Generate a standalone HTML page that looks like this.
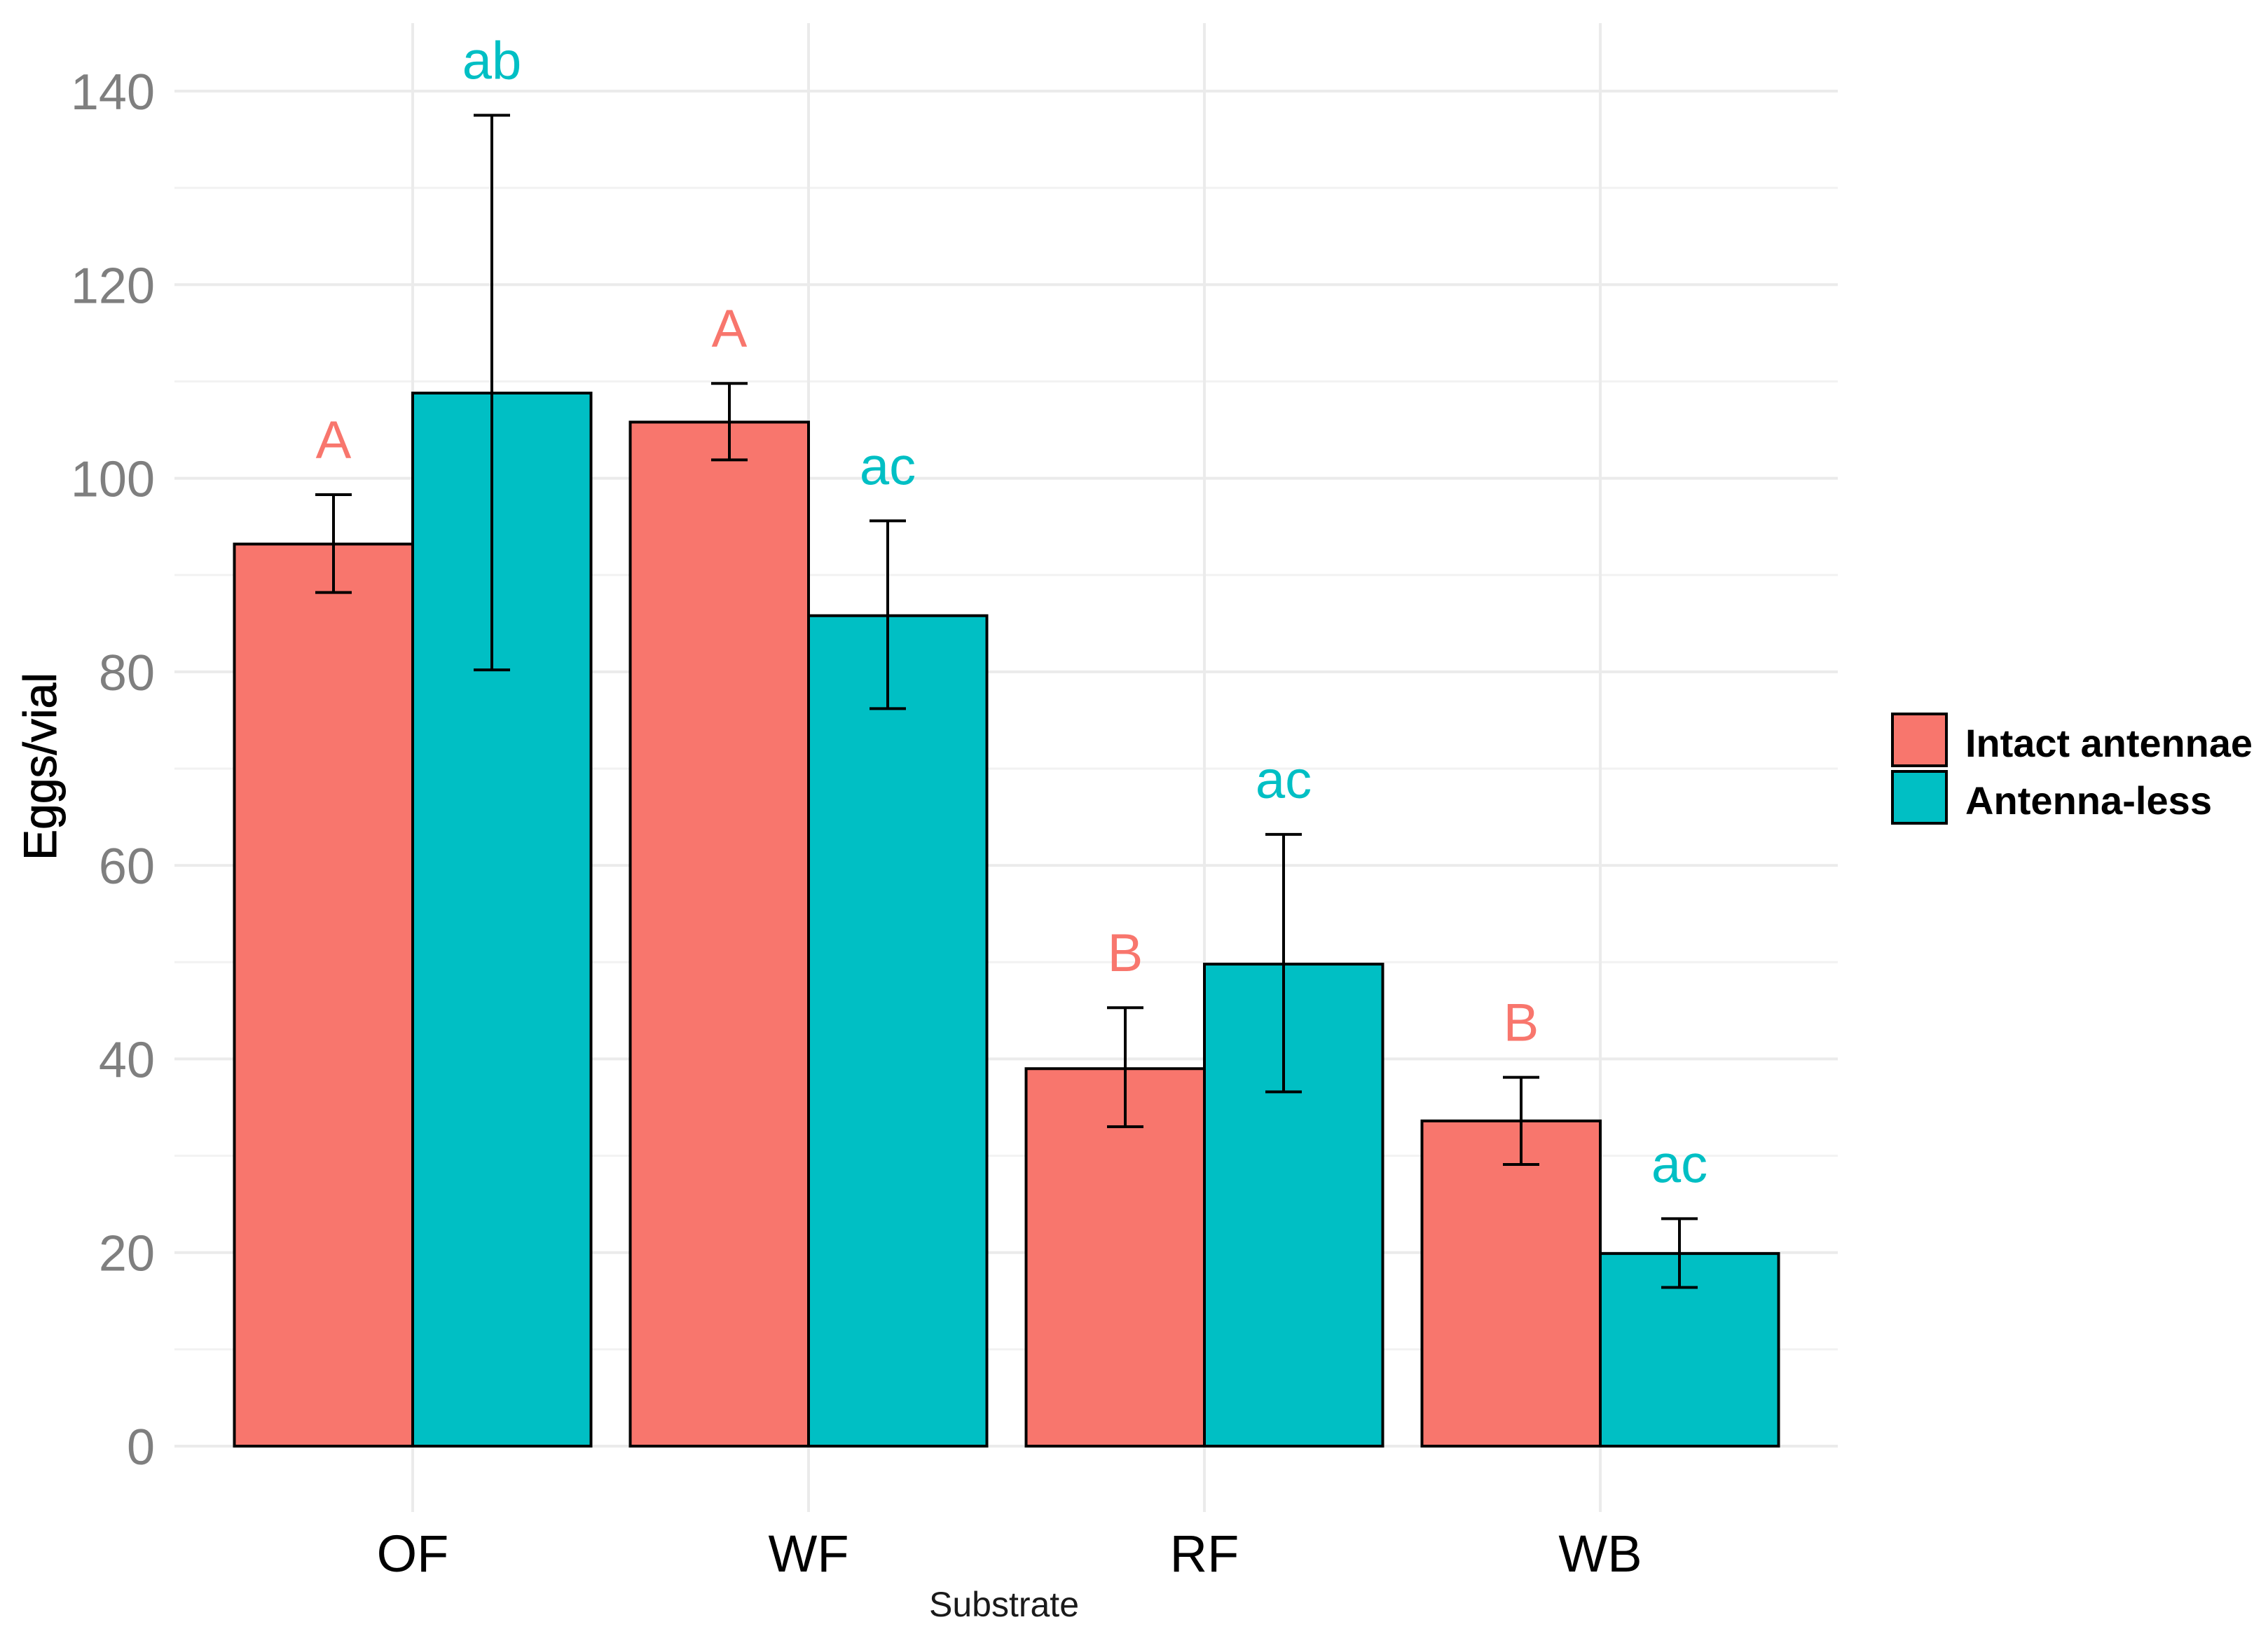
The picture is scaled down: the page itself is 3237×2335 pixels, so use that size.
<!DOCTYPE html>
<html><head><meta charset="utf-8"><style>
html,body{margin:0;padding:0;background:#fff;}
svg{display:block;font-family:"Liberation Sans",Arial,sans-serif;}
</style></head><body>
<svg id="chart" width="3237" height="2335" viewBox="0 0 3237 2335" xmlns="http://www.w3.org/2000/svg">
<rect width="3237" height="2335" fill="#fff"/>
<g id="grid"></g><g id="bars"></g><g id="errs"></g><g id="letters"></g><g id="axes"></g>
<g>
<rect x="2701" y="1019" width="77" height="74" fill="#F8766D" stroke="#000" stroke-width="4"/>
<rect x="2701" y="1101" width="77" height="74" fill="#00BFC4" stroke="#000" stroke-width="4"/>
<text x="2805" y="1080" font-size="56" font-weight="bold" textLength="410" lengthAdjust="spacingAndGlyphs">Intact antennae</text>
<text x="2805" y="1162" font-size="56" font-weight="bold" textLength="352" lengthAdjust="spacingAndGlyphs">Antenna-less</text>
</g>
<text x="1433" y="2307" font-size="50" text-anchor="middle" fill="#1a1a1a">Substrate</text>
<text transform="translate(80,1094) rotate(-90)" font-size="66" text-anchor="middle" fill="#000" stroke="#000" stroke-width="1">Eggs/vial</text>
</svg>
<script>
const categories = ["OF","WF","RF","WB"];
const intactMeans = [93.2, 105.8, 39.0, 33.6];
const intactUpper = [98.3, 109.8, 45.3, 38.1];
const intactLower = [88.2, 101.9, 33.0, 29.1];
const lessMeans = [108.8, 85.8, 49.8, 19.9];
const lessUpper = [137.5, 95.6, 63.2, 23.5];
const lessLower = [80.2, 76.2, 36.6, 16.4];
const intactLetters = ["A","A","B","B"];
const lessLetters = ["ab","ac","ac","ac"];
const yTicks = [0,20,40,60,80,100,120,140];

const NS="http://www.w3.org/2000/svg";
const y0=2064, yPer=(2064-130)/140;
const y = v => y0 - v*yPer;
const catStep=565, cat0=589;
const x = i => cat0 + i*catStep;
const barW = 254.5;
const errOff = 113;
function mk(tag, parent, attrs){const e=document.createElementNS(NS,tag);for(const k in attrs)e.setAttribute(k,attrs[k]);document.getElementById(parent).appendChild(e);return e;}

for(let v=10; v<=140; v+=20){
  const g=mk('line','grid',{x1:249,x2:2623,y1:y(v),y2:y(v),stroke:'#f2f2f2','stroke-width':3});
  
  
}
yTicks.forEach(v=>{
  const g=mk('line','grid',{x1:249,x2:2623,y1:y(v),y2:y(v),stroke:'#ebebeb','stroke-width':4});
  
  
  const t=mk('text','axes',{x:221,y:y(v)+26,'font-size':72,'text-anchor':'end',fill:'#7f7f7f'});
  t.textContent=v;
  
  
});
categories.forEach((c,i)=>{
  const g=mk('line','grid',{x1:x(i),x2:x(i),y1:33,y2:2158,stroke:'#ebebeb','stroke-width':4});
  
  
  const t=mk('text','axes',{x:x(i),y:2243,'font-size':74,'text-anchor':'middle',fill:'#000'});
  t.textContent=c;
  
  
});
function series(means, up, lo, letters, off, color, nm){
  means.forEach((m,i)=>{
    const cx = x(i) + off*barW/2;
    const ex = x(i) + off*errOff;
    const b=mk('rect','bars',{x:cx-barW/2,y:y(m),width:barW,height:y0-y(m),fill:color,stroke:'#000','stroke-width':4});
    
    
    const e=mk('path','errs',{d:`M${ex-26},${y(up[i])}H${ex+26}M${ex},${y(up[i])}V${y(lo[i])}M${ex-26},${y(lo[i])}H${ex+26}`,stroke:'#000','stroke-width':4,fill:'none'});
    
    
    const t=mk('text','letters',{x:ex,y:y(up[i])-52,'font-size':76,'text-anchor':'middle',fill:color});
    t.textContent=letters[i];
    
    
  });
}
series(intactMeans,intactUpper,intactLower,intactLetters,-1,'#F8766D','intact');
series(lessMeans,lessUpper,lessLower,lessLetters,1,'#00BFC4','antenna-less');
</script>
</body></html>
